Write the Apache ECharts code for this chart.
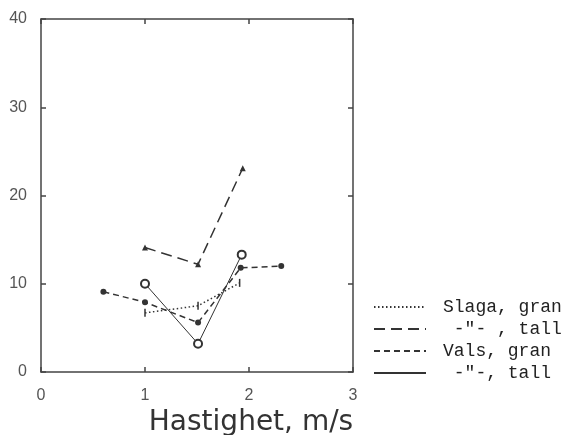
<!DOCTYPE html>
<html>
<head>
<meta charset="utf-8">
<script src="https://cdn.jsdelivr.net/npm/echarts@6/dist/echarts.min.js"></script>
<style>
  html, body { margin: 0; padding: 0; background: #fff; }
  #chart { width: 566px; height: 435px; }
</style>
</head>
<body>
<div id="chart"></div>
<script>
// values: [hastighet m/s, value]
const slagaGran = [[1.0, 6.7], [1.51, 7.5], [1.91, 10.1]]
const slagaTall = [[1.0, 14.1], [1.51, 12.2], [1.94, 23.1]]
const valsGran = [[0.6, 9.1], [1.0, 7.9], [1.51, 5.6], [1.92, 11.8], [2.31, 12.0]]
const valsTall = [[1.0, 10.0], [1.51, 3.2], [1.93, 13.3]]

const names = ['Slaga, gran', ' -"- , tall', 'Vals, gran', ' -"-, tall']

const ink = '#333'

const chart = echarts.init(document.getElementById('chart'))

const tickLabel = {
  color: '#555',
  fontFamily: 'Liberation Sans',
  fontSize: 16
}

const frameAxis = {
  axisLine: { onZero: false, lineStyle: { color: '#444', width: 1.5 } },
  axisTick: { inside: true, length: 5, lineStyle: { color: '#444', width: 1.5 } },
  splitLine: { show: false }
}

chart.setOption({
  backgroundColor: '#fff',
  animation: false,

  grid: {
    left: 41,
    right: 213,
    top: 19,
    bottom: 63,
    outerBoundsMode: 'none'
  },

  legend: {
    orient: 'vertical',
    left: 373,
    top: 298,
    padding: 0,
    itemGap: 4,
    itemWidth: 52,
    itemHeight: 18,
    itemStyle: { opacity: 0 },
    textStyle: {
      color: '#222',
      fontFamily: 'Liberation Mono',
      fontSize: 18,
      padding: [0, 0, 0, 12]
    },
    data: names
  },

  xAxis: [
    {
      type: 'value',
      min: 0,
      max: 3,
      interval: 1,
      ...frameAxis,
      axisLabel: { ...tickLabel, margin: 16 },
      name: 'Hastighet, m/s',
      nameLocation: 'middle',
      nameGap: 37,
      nameTextStyle: {
        color: '#333',
        fontFamily: 'DejaVu Sans',
        fontSize: 28,
        padding: [0, 0, 0, 108]
      }
    },
    {
      type: 'value',
      position: 'top',
      min: 0,
      max: 3,
      interval: 1,
      ...frameAxis,
      axisLabel: { show: false }
    }
  ],

  yAxis: [
    {
      type: 'value',
      min: 0,
      max: 40,
      interval: 10,
      ...frameAxis,
      axisLabel: { ...tickLabel, margin: 14 }
    },
    {
      type: 'value',
      position: 'right',
      min: 0,
      max: 40,
      interval: 10,
      ...frameAxis,
      axisLabel: { show: false }
    }
  ],

  series: [
    {
      name: names[0],
      type: 'line',
      data: slagaGran,
      symbol: 'rect',
      symbolSize: [1.5, 8],
      itemStyle: { color: ink },
      lineStyle: { color: ink, width: 1.5, type: [1.5, 2.5] }
    },
    {
      name: names[1],
      type: 'line',
      data: slagaTall,
      symbol: 'triangle',
      symbolSize: 6,
      itemStyle: { color: ink },
      lineStyle: { color: ink, width: 1.5, type: [11, 6] }
    },
    {
      name: names[2],
      type: 'line',
      data: valsGran,
      symbol: 'circle',
      symbolSize: 6,
      itemStyle: { color: ink },
      lineStyle: { color: ink, width: 1.5, type: [6, 4] }
    },
    {
      name: names[3],
      type: 'line',
      data: valsTall,
      symbol: 'emptyCircle',
      symbolSize: 8,
      itemStyle: { color: ink, borderWidth: 1.3 },
      lineStyle: { color: ink, width: 1 }
    }
  ]
})
</script>
</body>
</html>
